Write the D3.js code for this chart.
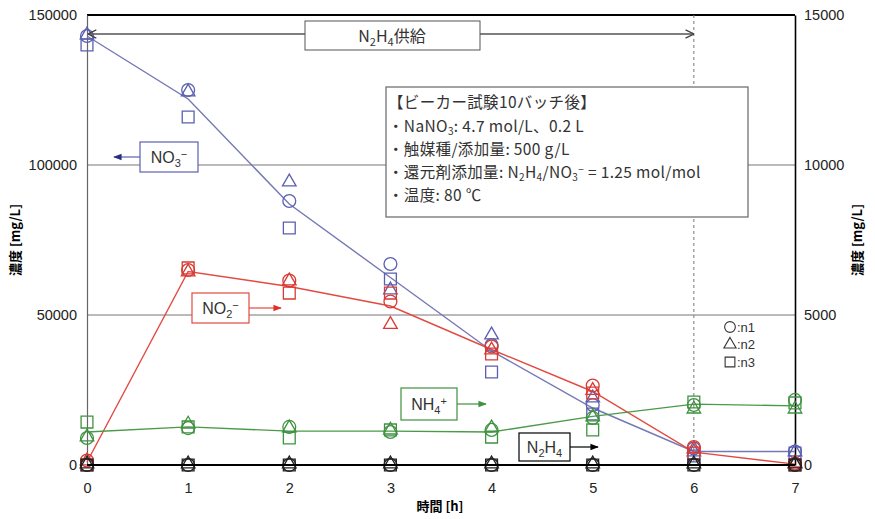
<!DOCTYPE html>
<html><head><meta charset="utf-8">
<script src="https://cdn.jsdelivr.net/npm/d3@7"></script>
<style>
body{margin:0;background:#fff;}
text{font-family:"Liberation Sans",Arial,sans-serif;}
.jp{font-family:"Noto Sans CJK JP","Liberation Sans",sans-serif;}
</style></head>
<body><svg id="c" width="875" height="519"></svg>
<script>
const hours = [0,1,2,3,4,5,6,7];
const leftTicks = [0,50000,100000,150000];
const rightTicks = [0,5000,10000,15000];
// NO3-
const no3_n1 = [143000,125000,88000,67000,40000,20000,5500,4500];
const no3_n2 = [143000,124000,94000,58000,43000,22000,4000,4000];
const no3_n3 = [140000,116000,79000,62000,31000,17000,3000,4000];
const no3_line = [143000,122000,87000,62500,38000,19000,4500,4500];
// NO2-
const no2_n1 = [1500,65000,61500,54500,39500,26500,6000,500];
const no2_n2 = [1000,64000,61000,46500,38000,24500,5000,300];
const no2_n3 = [0,65700,57300,57300,37000,24000,4000,0];
const no2_line = [1000,64500,59500,53000,38500,24500,4300,300];
// NH4+
const nh4_n1 = [9000,12300,12700,11000,11700,15700,20000,21700];
const nh4_n2 = [9000,13300,12000,11300,12000,15700,18300,18300];
const nh4_n3 = [14300,12700,9000,11700,9300,11700,21000,20700];
const nh4_line = [11000,12700,11300,11300,11000,16200,20300,19700];
// N2H4
const n2h4_n1 = [0,0,0,0,0,0,0,0];
const n2h4_n2 = [0,0,0,0,0,0,0,0];
const n2h4_n3 = [0,0,0,0,0,0,0,0];
const n2h4_line = [0,0,0,0,0,0,0,0];

const svg = d3.select("#c");
const x = d3.scaleLinear().domain([0,7]).range([87,795]);
const y = d3.scaleLinear().domain([0,150000]).range([465,15]);
const yR = d3.scaleLinear().domain([0,15000]).range([465,15]);

// gridlines
svg.append("g").selectAll("line").data([50000,100000]).join("line")
  .attr("x1",87).attr("x2",795).attr("y1",d=>y(d)).attr("y2",d=>y(d))
  .attr("stroke","#777").attr("stroke-width",1.2);
// top border
svg.append("line").attr("x1",87).attr("x2",795).attr("y1",y(150000)).attr("y2",y(150000))
  .attr("stroke","#000").attr("stroke-width",2);
// dashed at 6
svg.append("line").attr("x1",x(6)).attr("x2",x(6)).attr("y1",15).attr("y2",465)
  .attr("stroke","#777").attr("stroke-width",1).attr("stroke-dasharray","3,3");

// axes
const gL = svg.append("g").attr("transform","translate(87,0)")
  .call(d3.axisLeft(y).tickValues(leftTicks).tickSize(0).tickPadding(10).tickFormat(d3.format("d")));
gL.select(".domain").attr("stroke","#666").attr("stroke-width",1.2);
gL.selectAll("text").attr("font-size",14.5).attr("fill","#222").attr("font-family","Liberation Sans, Arial, sans-serif");
const gR = svg.append("g").attr("transform","translate(795,0)")
  .call(d3.axisRight(yR).tickValues(rightTicks).tickSize(0).tickPadding(9).tickFormat(d3.format("d")));
gR.select(".domain").attr("stroke","#000").attr("stroke-width",1.6);
gR.selectAll("text").attr("font-size",14.5).attr("fill","#222").attr("font-family","Liberation Sans, Arial, sans-serif");
const gB = svg.append("g").attr("transform","translate(0,465)")
  .call(d3.axisBottom(x).tickValues(hours).tickSize(0).tickPadding(18).tickFormat(d3.format("d")));
gB.select(".domain").remove();
gB.selectAll("text").attr("font-size",14.5).attr("fill","#222").attr("font-family","Liberation Sans, Arial, sans-serif");

// axis titles
svg.append("text").attr("class","jp").attr("x",440).attr("y",511).attr("text-anchor","middle")
  .attr("font-size",13).attr("font-weight","bold").text("時間 [h]");
svg.append("text").attr("class","jp").attr("transform","translate(20,240) rotate(-90)").attr("text-anchor","middle")
  .attr("font-size",13).attr("font-weight","bold").text("濃度 [mg/L]");
svg.append("text").attr("class","jp").attr("transform","translate(862,240) rotate(-90)").attr("text-anchor","middle")
  .attr("font-size",13).attr("font-weight","bold").text("濃度 [mg/L]");

const series = [
  {line:no3_line, pts:[no3_n1,no3_n2,no3_n3], lc:"#7478b4", mc:"#5a5fb0"},
  {line:no2_line, pts:[no2_n1,no2_n2,no2_n3], lc:"#e24a42", mc:"#d93a34"},
  {line:nh4_line, pts:[nh4_n1,nh4_n2,nh4_n3], lc:"#4a9a48", mc:"#3f9240"},
  {line:n2h4_line, pts:[n2h4_n1,n2h4_n2,n2h4_n3], lc:"#000", mc:"#222"}
];
const lineGen = d3.line().x((d,i)=>x(hours[i])).y(d=>y(d));
const symC = d3.symbol().type(d3.symbolCircle).size(130);
const symT = d3.symbol().type(d3.symbolTriangle).size(80);
const symS = d3.symbol().type(d3.symbolSquare).size(140);
const syms = [symC, symT, symS];

series.forEach((s,k)=>{
  svg.append("path").datum(s.line).attr("d",lineGen).attr("fill","none")
    .attr("stroke",s.lc).attr("stroke-width",k===3?2.2:1.4);
});
series.forEach(s=>{
  s.pts.forEach((arr,j)=>{
    svg.append("g").selectAll("path").data(arr).join("path")
      .attr("d",syms[j]())
      .attr("transform",(d,i)=>`translate(${x(hours[i])},${y(d)+(j===1?-1:0)})`)
      .attr("fill","none").attr("stroke",s.mc).attr("stroke-width",1.3);
  });
});
// bottom axis line on top
svg.append("line").attr("x1",87).attr("x2",795).attr("y1",465).attr("y2",465).attr("stroke","#000").attr("stroke-width",2.2);

// defs for arrows
const defs = svg.append("defs");
function marker(id,col){
  defs.append("marker").attr("id",id).attr("viewBox","0 0 10 10").attr("refX",9).attr("refY",5)
   .attr("markerWidth",7).attr("markerHeight",7).attr("orient","auto-start-reverse")
   .append("path").attr("d","M0,1 L10,5 L0,9 Z").attr("fill",col);
}
marker("aBlue","#2b2b80"); marker("aRed","#e0302a"); marker("aGreen","#3f9240"); marker("aBlack","#000");
defs.append("marker").attr("id","aOpen").attr("viewBox","0 0 10 10").attr("refX",10).attr("refY",5)
  .attr("markerWidth",8).attr("markerHeight",8).attr("orient","auto-start-reverse")
  .append("path").attr("d","M2,1 L10,5 L2,9").attr("fill","none").attr("stroke","#444").attr("stroke-width",1.3);

// N2H4 supply arrow
svg.append("line").attr("x1",88).attr("x2",x(6)).attr("y1",34).attr("y2",34).attr("stroke","#555").attr("stroke-width",1.3)
  .attr("marker-start","url(#aOpen)").attr("marker-end","url(#aOpen)");
svg.append("rect").attr("x",305).attr("y",21).attr("width",175).attr("height",29).attr("fill","#fff").attr("stroke","#555").attr("stroke-width",1);
{
  const t = svg.append("text").attr("class","jp").attr("x",392).attr("y",42).attr("text-anchor","middle").attr("font-size",16).attr("fill","#333");
  t.append("tspan").text("N");
  t.append("tspan").attr("font-size",11).attr("dy",4).text("2");
  t.append("tspan").attr("dy",-4).text("H");
  t.append("tspan").attr("font-size",11).attr("dy",4).text("4");
  t.append("tspan").attr("dy",-4).text("供給");
}

// series labels
function label(bx,by,w,h,col,parts,ax1,ax2,mk){
  svg.append("line").attr("x1",ax1).attr("x2",ax2).attr("y1",by+h/2).attr("y2",by+h/2)
    .attr("stroke",col).attr("stroke-width",1.2).attr("marker-end",`url(#${mk})`);
  svg.append("rect").attr("x",bx).attr("y",by).attr("width",w).attr("height",h).attr("fill","#fff").attr("stroke",col).attr("stroke-width",1.2);
  const t = svg.append("text").attr("x",bx+w/2).attr("y",by+h/2+6).attr("text-anchor","middle").attr("font-size",16).attr("fill","#333");
  parts.forEach(p=>{ const ts=t.append("tspan").text(p[0]); if(p[1]){ts.attr("font-size",11).attr("dy",p[1]);} if(p[2]) ts.attr("dy",p[2]); });
}
label(140,142,58,30,"#5a5fb0",[["NO"],["3",4],["−",-9]],140,114,"aBlue");
label(192,293,57,30,"#e24a42",[["NO"],["2",4],["−",-9]],249,281,"aRed");
label(401,388,56,32,"#3f9240",[["NH"],["4",4],["+",-9]],457,486,"aGreen");
label(519,433,51,28,"#000",[["N"],["2",4],["H",null,-4],["4",4]],570,598,"aBlack");

// info box
svg.append("rect").attr("x",386).attr("y",87).attr("width",362).attr("height",130).attr("fill","#fff").attr("stroke","#666").attr("stroke-width",1.2);
const info = svg.append("g");
function infoLine(yy, parts){
  const t = info.append("text").attr("class","jp").attr("x",388).attr("y",yy).attr("fill","#333").attr("font-size",15.5).attr("letter-spacing",0.35);
  parts.forEach(p=>{ const ts=t.append("tspan").text(p[0]); if(p[1]) ts.attr("font-size",10).attr("dy",p[1]); if(p[2]) ts.attr("dy",p[2]); });
}
infoLine(108,[["【ビーカー試験10バッチ後】"]]);
infoLine(132,[["・NaNO"],["3",3],[": 4.7 mol/L、0.2 L",null,-3]]);
infoLine(155,[["・触媒種/添加量: 500 g/L"]]);
infoLine(178,[["・還元剤添加量: N"],["2",3],["H",null,-3],["4",3],["/NO",null,-3],["3",3],["−",-8],[" = 1.25 mol/mol",null,5]]);
infoLine(201,[["・温度: 80 ℃"]]);

// marker legend
const leg = svg.append("g");
[["n1",0],["n2",1],["n3",2]].forEach(([n,j],i)=>{
  const yy = 327+i*17.5;
  leg.append("path").attr("d",d3.symbol().type([d3.symbolCircle,d3.symbolTriangle,d3.symbolSquare][j]).size([90,65,95][j])())
    .attr("transform",`translate(730,${yy})`).attr("fill","none").attr("stroke","#333").attr("stroke-width",1.1);
  leg.append("text").attr("x",737).attr("y",yy+4.5).attr("font-size",13).attr("fill","#333").text(":"+n);
});
</script></body></html>
